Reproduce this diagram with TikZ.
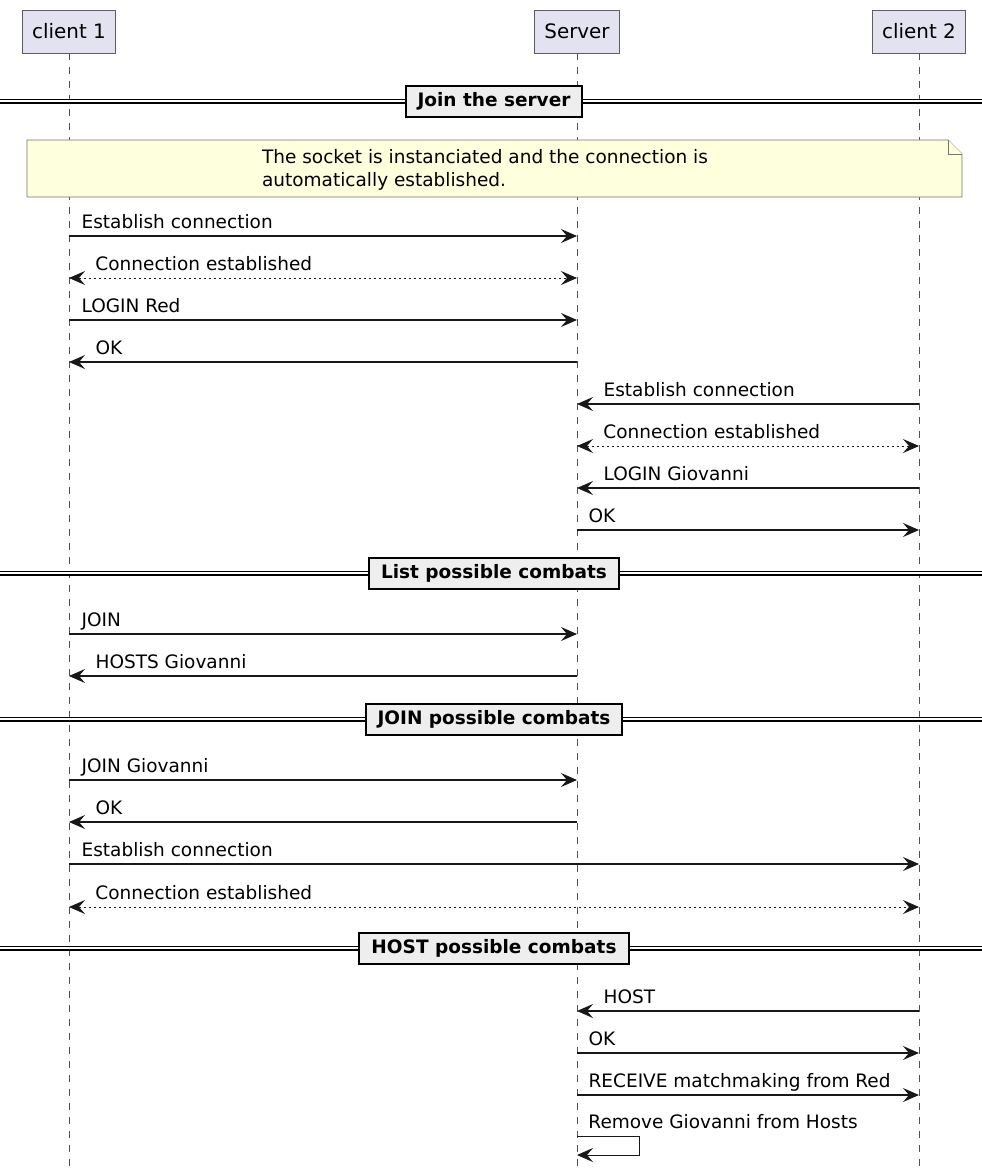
\documentclass[tikz,border=0pt]{standalone}
\usepackage{fontspec}
\setmainfont{DejaVu Sans}
\usepackage{tikz}
\usetikzlibrary{arrows.meta}

\definecolor{partfill}{HTML}{E2E2F0}
\definecolor{notefill}{HTML}{FEFFDD}
\definecolor{sepfill}{HTML}{EEEEEE}
\definecolor{ink}{HTML}{181818}

\tikzset{
	part/.style={draw=ink!70, line width=0.8, fill=partfill, inner xsep=10, minimum height=43,
		font=\fontsize{19.9}{22}\selectfont},
	life/.style={draw=ink!75, line width=0.8, dash pattern=on 7 off 7},
	msg/.style={draw=ink, line width=1.2},
	back/.style={msg, line width=0.9, dash pattern=on 2.5 off 2.5},
	lbl/.style={anchor=base west, inner sep=0, yshift=8, font=\fontsize{18.5}{22}\selectfont},
	sepbox/.style={draw=black, line width=2, fill=sepfill, inner xsep=12, minimum height=31,
		font=\fontsize{18.5}{22}\selectfont\bfseries},
	sepline/.style={draw=black, line width=1.3, double distance=2.4},
	notebox/.style={draw=ink!60, line width=0.9, fill=notefill}
}

\begin{document}
\begin{tikzpicture}[x=1pt, y=-1pt, >={Stealth[length=16, width=14, inset=6]}]
		\useasboundingbox (0,0) rectangle (982,1172);
		% participants
		\node[part] (c1) at (69,31.5) {client 1};
		\node[part] (srv) at (577,31.5) {Server};
		\node[part] (c2) at (919,31.5) {client 2};
		\foreach \p in {c1, srv, c2}{
			\draw[life] (\p.south) -- (\p.south |- 0,1172);
		}
		% separators
		\foreach \y/\t/\n in {101/Join the server/s1, 573/List possible combats/s2,
				719/JOIN possible combats/s3, 948/HOST possible combats/s4}{
			\draw[sepline] (0,\y) -- (982,\y);
			\node[sepbox] (\n) at (494,\y) {\t};
		}
		% note
		\draw[notebox] (27,140) -- (948,140) -- (962,154) -- (962,197) -- (27,197) -- cycle;
		\draw[notebox] (948,140) -- (948,154) -- (962,154);
		\node[align=left, font=\fontsize{18.5}{23}\selectfont, inner sep=0] (note) at (485,169.5)
			{The socket is instanciated and the connection is\\automatically established.};
		% joining the server
		\draw[msg, ->] (c1 |- 0,236) -- (srv |- 0,236) node[lbl, pos=0, xshift=12] {Establish connection};
		\draw[back, <->] (c1 |- 0,278) -- (srv |- 0,278) node[lbl, pos=0, xshift=26] {Connection established};
		\draw[msg, ->] (c1 |- 0,320) -- (srv |- 0,320) node[lbl, pos=0, xshift=12] {LOGIN Red};
		\draw[msg, <-] (c1 |- 0,362) -- (srv |- 0,362) node[lbl, pos=0, xshift=26] {OK};
		\draw[msg, <-] (srv |- 0,404) -- (c2 |- 0,404) node[lbl, pos=0, xshift=26] {Establish connection};
		\draw[back, <->] (srv |- 0,446) -- (c2 |- 0,446) node[lbl, pos=0, xshift=26] {Connection established};
		\draw[msg, <-] (srv |- 0,488) -- (c2 |- 0,488) node[lbl, pos=0, xshift=26] {LOGIN Giovanni};
		\draw[msg, ->] (srv |- 0,530) -- (c2 |- 0,530) node[lbl, pos=0, xshift=11] {OK};
		% listing
		\draw[msg, ->] (c1 |- 0,634) -- (srv |- 0,634) node[lbl, pos=0, xshift=12] {JOIN};
		\draw[msg, <-] (c1 |- 0,676) -- (srv |- 0,676) node[lbl, pos=0, xshift=26] {HOSTS Giovanni};
		% joining
		\draw[msg, ->] (c1 |- 0,780) -- (srv |- 0,780) node[lbl, pos=0, xshift=12] {JOIN Giovanni};
		\draw[msg, <-] (c1 |- 0,822) -- (srv |- 0,822) node[lbl, pos=0, xshift=26] {OK};
		\draw[msg, ->] (c1 |- 0,864) -- (c2 |- 0,864) node[lbl, pos=0, xshift=12] {Establish connection};
		\draw[back, <->] (c1 |- 0,907) -- (c2 |- 0,907) node[lbl, pos=0, xshift=26] {Connection established};
		% hosting
		\draw[msg, <-] (srv |- 0,1011) -- (c2 |- 0,1011) node[lbl, pos=0, xshift=26] {HOST};
		\draw[msg, ->] (srv |- 0,1053) -- (c2 |- 0,1053) node[lbl, pos=0, xshift=11] {OK};
		\draw[msg, ->] (srv |- 0,1095) -- (c2 |- 0,1095) node[lbl, pos=0, xshift=11] {RECEIVE matchmaking from Red};
		\draw[msg, ->, line width=0.9] (srv |- 0,1136) node[lbl, xshift=11] {Remove Giovanni from Hosts}
			-- ++(62,0) -- ++(0,19) -- (srv |- 0,1155);
\end{tikzpicture}
\end{document}
